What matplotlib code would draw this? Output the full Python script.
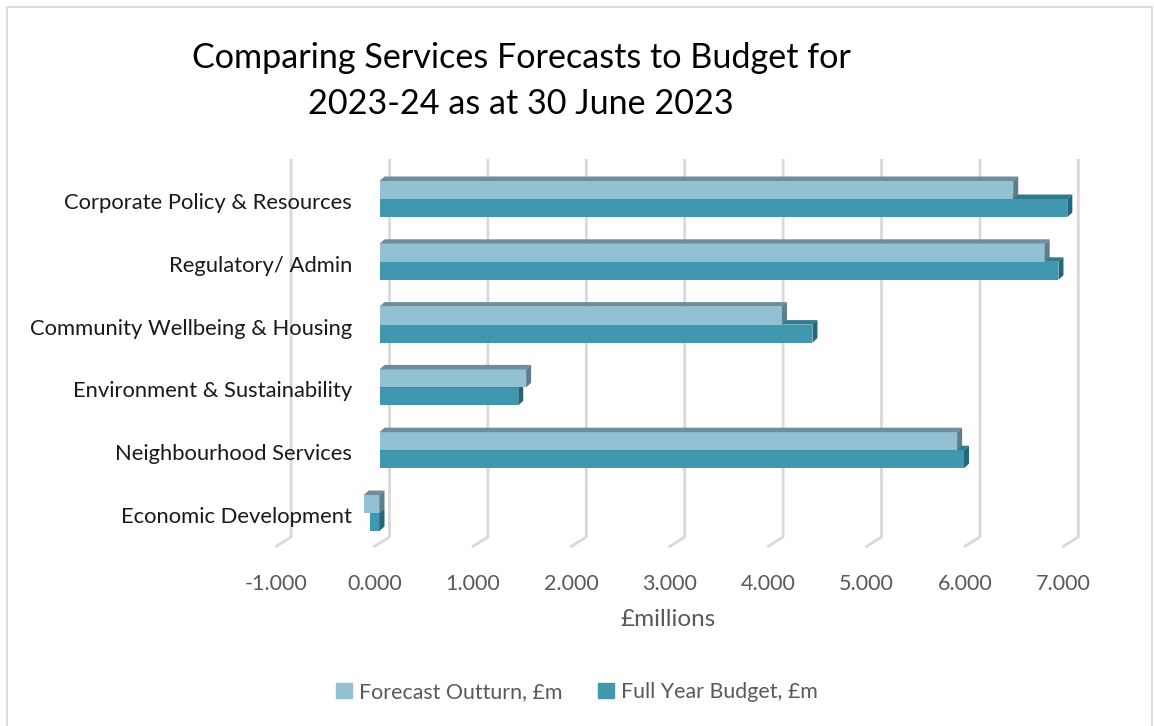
import numpy as np
import matplotlib.pyplot as plt
from matplotlib.patches import Polygon, Rectangle
from matplotlib.transforms import ScaledTranslation

plt.rcParams['font.family'] = ['Lato', 'DejaVu Sans']

categories = ['Corporate Policy & Resources', 'Regulatory/ Admin',
              'Community Wellbeing & Housing', 'Environment & Sustainability',
              'Neighbourhood Services', 'Economic Development']
forecast = [6.44, 6.76, 4.09, 1.49, 5.87, -0.16]
budget = [6.99, 6.90, 4.40, 1.41, 5.94, -0.10]
xticks = [-1, 0, 1, 2, 3, 4, 5, 6, 7]
xtick_labels = ['-1.000', '0.000', '1.000', '2.000', '3.000',
                '4.000', '5.000', '6.000', '7.000']
series_names = ['Forecast Outturn, £m', 'Full Year Budget, £m']

# colours: front, top, side
c_fc = ('#92c1d3', '#6c8f9b', '#5e7e89')
c_bu = ('#4196b0', '#2f7a8f', '#24667a')
grey_txt = '#595959'
grid_col = '#d9d9d9'

W, H = 1154, 726
fig = plt.figure(figsize=(W / 100, H / 100), dpi=100)

# pixel geometry of the plot
x0_px, sx = 379.5, 98.4     # value 0 on the bars' front face, px per unit
y0_px, sy = 199.0, 62.8     # first category boundary, px per category
xmin, xmax = -1.15, 7.3
ymin, ymax = -0.85, 5.8
top_px = y0_px + ymin * sy
bot_px = y0_px + ymax * sy
ax = fig.add_axes([(x0_px + xmin * sx) / W, 1 - bot_px / H,
                   (xmax - xmin) * sx / W, (bot_px - top_px) / H])
ax.set_xlim(xmin, xmax)
ax.set_ylim(ymax, ymin)
for s in ax.spines.values():
    s.set_visible(False)
ax.set_yticks([])

px = 1 / sx
py = 1 / sy
h = 18 * py
ddx, ddy = 5 * px, -4.5 * py

# gridlines on the back wall with floor returns
for v in xticks:
    gx = v + 10 * px
    ax.plot([gx, gx, gx - 16 * px],
            [(159 - y0_px) * py, (537 - y0_px) * py, (547 - y0_px) * py],
            color=grid_col, lw=2, zorder=1, solid_capstyle='butt',
            clip_on=False)


def bar3d(yc, v, cols):
    a, b = min(0, v), max(0, v)
    t, bt = yc - h / 2, yc + h / 2
    ax.barh(yc, v, height=h, color=cols[0], edgecolor='none', zorder=3)
    ax.add_patch(Polygon([(a, t), (b, t), (b + ddx, t + ddy), (a + ddx, t + ddy)],
                         closed=True, color=cols[1], lw=0, zorder=3))
    ax.add_patch(Polygon([(b, t), (b, bt), (b + ddx, bt + ddy), (b + ddx, t + ddy)],
                         closed=True, color=cols[2], lw=0, zorder=3))


y = np.arange(len(categories))
for i in y:
    bar3d(i + h / 2, budget[i], c_bu)
    bar3d(i - h / 2, forecast[i], c_fc)
    ax.text((352 - x0_px) * px, i + 4 * py, categories[i], ha='right',
            va='center', fontsize=15.8, color='#1a1a1a')

ax.set_xticks(xticks, xtick_labels)
ax.tick_params(axis='x', length=0, pad=8, labelsize=15.5, labelcolor=grey_txt)
for lab in ax.get_xticklabels():
    lab.set_transform(lab.get_transform() + ScaledTranslation(-5 / 100, 0, fig.dpi_scale_trans))

fig.text(668 / W, 1 - 620 / H, '£millions', ha='center', va='center',
         fontsize=17.5, color=grey_txt)

fig.text(521 / W, 1 - 81 / H,
         'Comparing Services Forecasts to Budget for\n2023-24 as at 30 June 2023',
         ha='center', va='center', fontsize=24.6, linespacing=1.5, color='black')

# legend
handles = [Rectangle((0, 0), 1, 1, color=c_fc[0]), Rectangle((0, 0), 1, 1, color=c_bu[0])]
fig.legend(handles, series_names, loc='center', bbox_to_anchor=(577 / W, 1 - 692 / H),
           ncol=2, frameon=False, fontsize=15.4, labelcolor=grey_txt,
           handlelength=0.75, handleheight=0.75, handletextpad=0.35, columnspacing=1.65)

# chart border
fig.patches.append(Rectangle((7 / W, -0.01), (1152 - 7) / W, 1.01 - 7 / H,
                             transform=fig.transFigure, fill=False,
                             edgecolor='#d9d9d9', lw=1.3))

fig.savefig('out.png', dpi=100)
